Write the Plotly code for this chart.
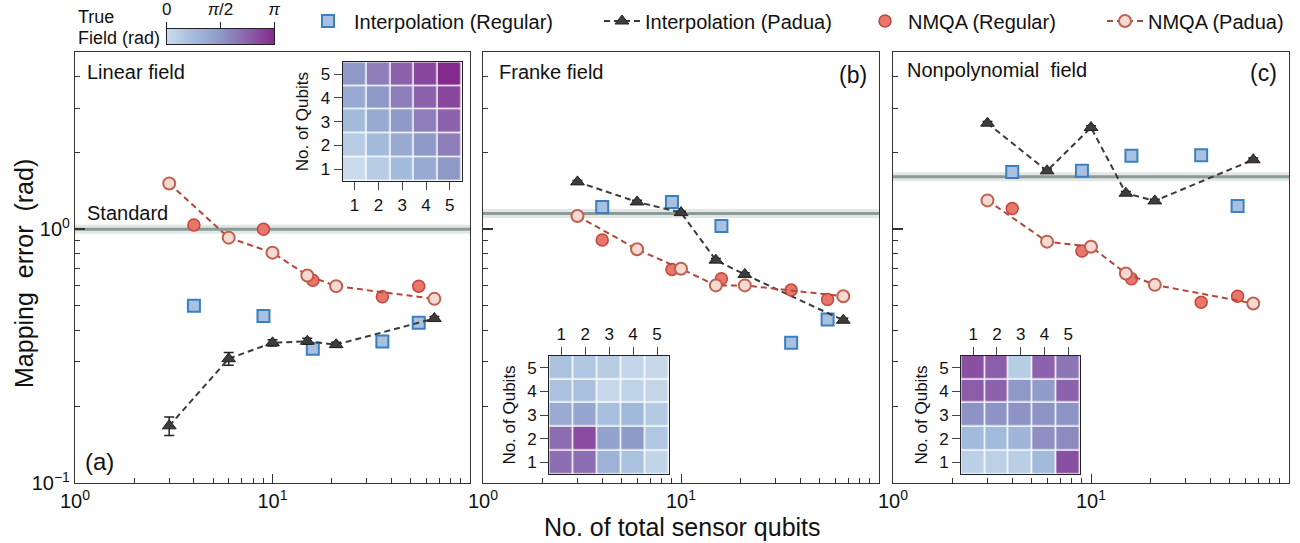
import numpy as np
import plotly.graph_objects as go

W, H = 1300, 543
FONT = "Liberation Sans, Arial, sans-serif"

# ---------------- data ----------------
PADUA_N = [3, 6, 10, 15, 21, 66]
REG_N = [4, 9, 16, 36, 55]

interp_reg_a = [0.50, 0.455, 0.338, 0.361, 0.428]
interp_pad_a = [0.168, 0.309, 0.357, 0.362, 0.351, 0.445]
interp_pad_err_a = [0.014, 0.018, 0.010, 0.010, 0.008, 0.008]
nmqa_reg_a = [1.04, 1.00, 0.63, 0.542, 0.597]
nmqa_reg_err_a = [0.02, 0.02, 0.012, 0.01, 0.012]
nmqa_pad_a = [1.515, 0.927, 0.809, 0.658, 0.597, 0.532]
nmqa_pad_err_a = [0.02, 0.015, 0.012, 0.012, 0.01, 0.01]

interp_reg_b = [1.225, 1.282, 1.03, 0.357, 0.441]
interp_pad_b = [1.538, 1.282, 1.164, 0.756, 0.664, 0.438]
interp_pad_err_b = [0.02, 0.02, 0.015, 0.012, 0.01, 0.008]
nmqa_reg_b = [0.908, 0.695, 0.638, 0.576, 0.529]
nmqa_reg_err_b = [0.015, 0.012, 0.012, 0.01, 0.01]
nmqa_pad_b = [1.129, 0.834, 0.699, 0.601, 0.601, 0.545]
nmqa_pad_err_b = [0.015, 0.012, 0.01, 0.01, 0.01, 0.01]

interp_reg_c = [1.684, 1.70, 1.95, 1.96, 1.236]
interp_pad_c = [2.62, 1.70, 2.52, 1.388, 1.294, 1.88]
interp_pad_err_c = [0.04, 0.03, 0.04, 0.02, 0.02, 0.03]
nmqa_reg_c = [1.207, 0.821, 0.638, 0.516, 0.545]
nmqa_reg_err_c = [0.02, 0.012, 0.012, 0.01, 0.01]
nmqa_pad_c = [1.30, 0.894, 0.854, 0.67, 0.604, 0.51]
nmqa_pad_err_c = [0.02, 0.012, 0.012, 0.01, 0.01, 0.01]

standard_err = [1.0, 1.154, 1.61]

panel_titles = ["Linear field", "Franke field", "Nonpolynomial\u00a0 field"]
panel_tags = ["(a)", "(b)", "(c)"]

QUBITS = [1, 2, 3, 4, 5]
# true field (rad), rows = y qubit 1..5 (bottom to top), cols = x qubit 1..5
field_a = [[0.00, 0.39, 0.79, 1.18, 1.57],
           [0.39, 0.79, 1.18, 1.57, 1.96],
           [0.79, 1.18, 1.57, 1.96, 2.36],
           [1.18, 1.57, 1.96, 2.36, 2.75],
           [1.57, 1.96, 2.36, 2.75, 3.14]]
field_b = [[2.17, 2.17, 1.01, 0.63, 0.19],
           [2.20, 2.67, 1.38, 1.54, 0.53],
           [1.16, 1.29, 0.69, 0.88, 0.44],
           [0.63, 0.66, 0.09, 0.22, 0.16],
           [0.63, 0.53, 0.38, 0.16, 0.09]]
field_c = [[0.31, 0.28, 0.35, 0.82, 2.61],
           [0.82, 0.82, 0.91, 1.70, 1.79],
           [1.66, 1.66, 1.66, 1.63, 1.63],
           [2.42, 2.36, 1.57, 1.51, 2.36],
           [2.61, 2.42, 0.38, 2.36, 2.07]]

CB_TICKS = [0, np.pi / 2, np.pi]
CB_LABELS = ["0", "<i>π</i>/2", "<i>π</i>"]

# ---------------- style ----------------
COLORSCALE = [[0.0, "#cadcec"], [0.25, "#a3bcdc"], [0.5, "#8e99c8"],
              [0.75, "#8b62ab"], [1.0, "#852a8d"]]

def px(x):
    return x / W

def py(y):
    return 1 - y / H

main_x = [(75, 470), (483, 879), (893, 1289)]
y_top, y_bot = 52, 483

fig = go.Figure()

panels = [
    (interp_reg_a, interp_pad_a, interp_pad_err_a, nmqa_reg_a, nmqa_reg_err_a, nmqa_pad_a, nmqa_pad_err_a),
    (interp_reg_b, interp_pad_b, interp_pad_err_b, nmqa_reg_b, nmqa_reg_err_b, nmqa_pad_b, nmqa_pad_err_b),
    (interp_reg_c, interp_pad_c, interp_pad_err_c, nmqa_reg_c, nmqa_reg_err_c, nmqa_pad_c, nmqa_pad_err_c),
]

for k, (ir, ip, ipe, nr, nre, npd, npe) in enumerate(panels):
    xa = "x" if k == 0 else f"x{k+1}"
    ya = "y" if k == 0 else f"y{k+1}"
    show = k == 0
    # standard line (band + line)
    fig.add_trace(go.Scatter(x=[1, 100], y=[standard_err[k]] * 2, mode="lines",
                             line=dict(color="rgba(150,170,165,0.28)", width=9),
                             xaxis=xa, yaxis=ya, showlegend=False, hoverinfo="skip"))
    fig.add_trace(go.Scatter(x=[1, 100], y=[standard_err[k]] * 2, mode="lines",
                             line=dict(color="#8b9b98", width=3),
                             xaxis=xa, yaxis=ya, showlegend=False, hoverinfo="skip"))
    fig.add_trace(go.Scatter(
        x=REG_N, y=ir, mode="markers", name="Interpolation (Regular)",
        marker=dict(symbol="square", size=12, color="#a9c1e0",
                    line=dict(color="#3c7fc0", width=2)),
        xaxis=xa, yaxis=ya, showlegend=show, legend="legend"))
    fig.add_trace(go.Scatter(
        x=PADUA_N, y=ip, mode="lines+markers", name="Interpolation (Padua)",
        line=dict(color="#3a3a3a", width=2, dash="6px,4px"),
        marker=dict(symbol="triangle-up", size=12, color="#3d3d3d",
                    line=dict(color="#222222", width=1)),
        error_y=dict(type="data", array=ipe, color="#222222", thickness=1.5, width=5),
        xaxis=xa, yaxis=ya, showlegend=show, legend="legend2"))
    fig.add_trace(go.Scatter(
        x=REG_N, y=nr, mode="markers", name="NMQA (Regular)",
        marker=dict(symbol="circle", size=12, color="#e8766b",
                    line=dict(color="#c0463b", width=1.5)),
        error_y=dict(type="data", array=nre, color="#b5443a", thickness=1.5, width=5),
        xaxis=xa, yaxis=ya, showlegend=show, legend="legend3"))
    fig.add_trace(go.Scatter(
        x=PADUA_N, y=npd, mode="lines+markers", name="NMQA (Padua)",
        line=dict(color="#b5473a", width=2, dash="6px,4px"),
        marker=dict(symbol="circle", size=12, color="#f5dad3",
                    line=dict(color="#c0604f", width=2)),
        error_y=dict(type="data", array=npe, color="#b5443a", thickness=1.5, width=5),
        xaxis=xa, yaxis=ya, showlegend=show, legend="legend4"))

# insets
inset_pos = [((342.7, 461.7), (62.3, 181), "bottom"),
             ((549.3, 669.0), (355.7, 474.3), "top"),
             ((961.3, 1080.0), (355.7, 474.3), "top")]
for k, z in enumerate([field_a, field_b, field_c]):
    n = 4 + k
    fig.add_trace(go.Heatmap(z=z, x=QUBITS, y=QUBITS, colorscale=COLORSCALE,
                             zmin=0, zmax=np.pi, showscale=False, xgap=1.5, ygap=1.5,
                             xaxis=f"x{n}", yaxis=f"y{n}", hoverinfo="skip"))

# colorbar strip
cb_vals = np.linspace(0, np.pi, 256)
fig.add_trace(go.Heatmap(z=[cb_vals], x=cb_vals, y=[0], colorscale=COLORSCALE,
                         zmin=0, zmax=np.pi, showscale=False,
                         xaxis="x7", yaxis="y7", hoverinfo="skip"))

layout = dict(
    width=W, height=H, margin=dict(l=0, r=0, t=0, b=0, autoexpand=False),
    paper_bgcolor="white", plot_bgcolor="white",
    font=dict(family=FONT, size=20, color="#111111"),
)

minor_x = [2, 3, 4, 5, 6, 7, 8, 9, 20, 30, 40, 50, 60, 70, 80, 90]
minor_y = [0.2, 0.3, 0.4, 0.5, 0.6, 0.7, 0.8, 0.9, 2, 3, 4, 5]
for k in range(3):
    sx = "" if k == 0 else str(k + 1)
    x0, x1 = main_x[k]
    layout[f"xaxis{sx}"] = dict(
        type="log", range=[0, 2], domain=[px(x0), px(x1)], anchor=f"y{sx}",
        automargin=False,
        showline=True, linecolor="#333333", linewidth=1.3, mirror=True,
        ticks="inside", ticklen=9, tickwidth=1.3, tickcolor="#333333",
        tickvals=[1, 10, 100],
        ticktext=["10<sup>0</sup>", "10<sup>1</sup>", ""],
        tickfont=dict(size=20, family=FONT, color="#111111"),
        showgrid=False, zeroline=False,
        minor=dict(tickvals=minor_x, ticks="inside", ticklen=5, tickwidth=1.1,
                   tickcolor="#333333", showgrid=False),
    )
    layout[f"yaxis{sx}"] = dict(
        type="log", range=[-1, np.log10(5)], domain=[py(y_bot), py(y_top)],
        anchor=f"x{sx}", automargin=False,
        showline=True, linecolor="#333333", linewidth=1.3, mirror=True,
        ticks="inside", ticklen=10, tickwidth=1.5, tickcolor="#333333",
        tickvals=[0.1, 1],
        ticktext=["10<sup>−1</sup>", "10<sup>0</sup>"] if k == 0 else ["", ""],
        tickfont=dict(size=20, family=FONT, color="#111111"),
        showgrid=False, zeroline=False,
        minor=dict(tickvals=minor_y, ticks="inside", ticklen=5, tickwidth=1.1,
                   tickcolor="#333333", showgrid=False),
    )

for k, ((x0, x1), (y0, y1), side) in enumerate(inset_pos):
    n = 4 + k
    layout[f"xaxis{n}"] = dict(
        domain=[px(x0), px(x1)], anchor=f"y{n}", side=side, range=[0.5, 5.5],
        automargin=False,
        tickvals=QUBITS, ticks="outside", ticklen=8, tickcolor="#444444",
        showline=True, linecolor="#222222", linewidth=1.3, mirror=True,
        tickfont=dict(size=17, family=FONT, color="#111111"),
        showgrid=False, zeroline=False)
    layout[f"yaxis{n}"] = dict(
        domain=[py(y1), py(y0)], anchor=f"x{n}", range=[0.5, 5.5],
        automargin=False,
        tickvals=QUBITS, ticks="outside", ticklen=8, tickcolor="#444444",
        showline=True, linecolor="#222222", linewidth=1.3, mirror=True,
        tickfont=dict(size=17, family=FONT, color="#111111"),
        title=dict(text="No. of Qubits", font=dict(size=17, family=FONT), standoff=7),
        showgrid=False, zeroline=False)

layout["xaxis7"] = dict(
    domain=[px(166.7), px(274.3)], anchor="y7", side="top", range=[0, np.pi],
    automargin=False,
    tickvals=CB_TICKS, ticktext=CB_LABELS, ticks="outside", ticklen=6,
    tickcolor="#222222", showline=True, linecolor="#222222", linewidth=1.3,
    mirror=True, tickfont=dict(size=17, family=FONT, color="#111111"),
    showgrid=False, zeroline=False)
layout["yaxis7"] = dict(
    domain=[py(44), py(29)], anchor="x7", range=[-0.5, 0.5], showticklabels=False,
    automargin=False,
    ticks="", showline=True, linecolor="#222222", linewidth=1.3, mirror=True,
    showgrid=False, zeroline=False)

leg_common = dict(orientation="h", yanchor="middle", y=py(21), xanchor="left",
                  bgcolor="rgba(0,0,0,0)", font=dict(size=20, family=FONT, color="#111111"),
                  borderwidth=0)
layout["legend"] = dict(leg_common, x=px(302), itemwidth=42)
layout["legend2"] = dict(leg_common, x=px(599), itemwidth=36)
layout["legend3"] = dict(leg_common, x=px(862), itemwidth=36)
layout["legend4"] = dict(leg_common, x=px(1102), itemwidth=36)

fig.update_layout(**layout)

ann = []
def text(x, y, s, size=20, xanchor="left", yanchor="middle", angle=0):
    ann.append(dict(x=px(x), y=py(y), xref="paper", yref="paper", text=s,
                    showarrow=False, xanchor=xanchor, yanchor=yanchor, textangle=angle,
                    font=dict(size=size, family=FONT, color="#111111")))

text(85, 72, panel_titles[0])
text(497, 72, panel_titles[1])
text(905, 70, panel_titles[2])
text(869, 75, panel_tags[1], size=23, xanchor="right")
text(1279, 73, panel_tags[2], size=23, xanchor="right")
text(83, 461, panel_tags[0], size=24)
text(85, 213, "Standard")
text(76, 17, "True", size=18)
text(76, 38, "Field (rad)", size=18)
text(683, 527, "No. of total sensor qubits", size=25, xanchor="center")
text(24, 274, "Mapping\u00a0 error\u00a0 (rad)", size=25, xanchor="center", angle=-90)
fig.update_layout(annotations=ann)

fig.write_html("out.html")
